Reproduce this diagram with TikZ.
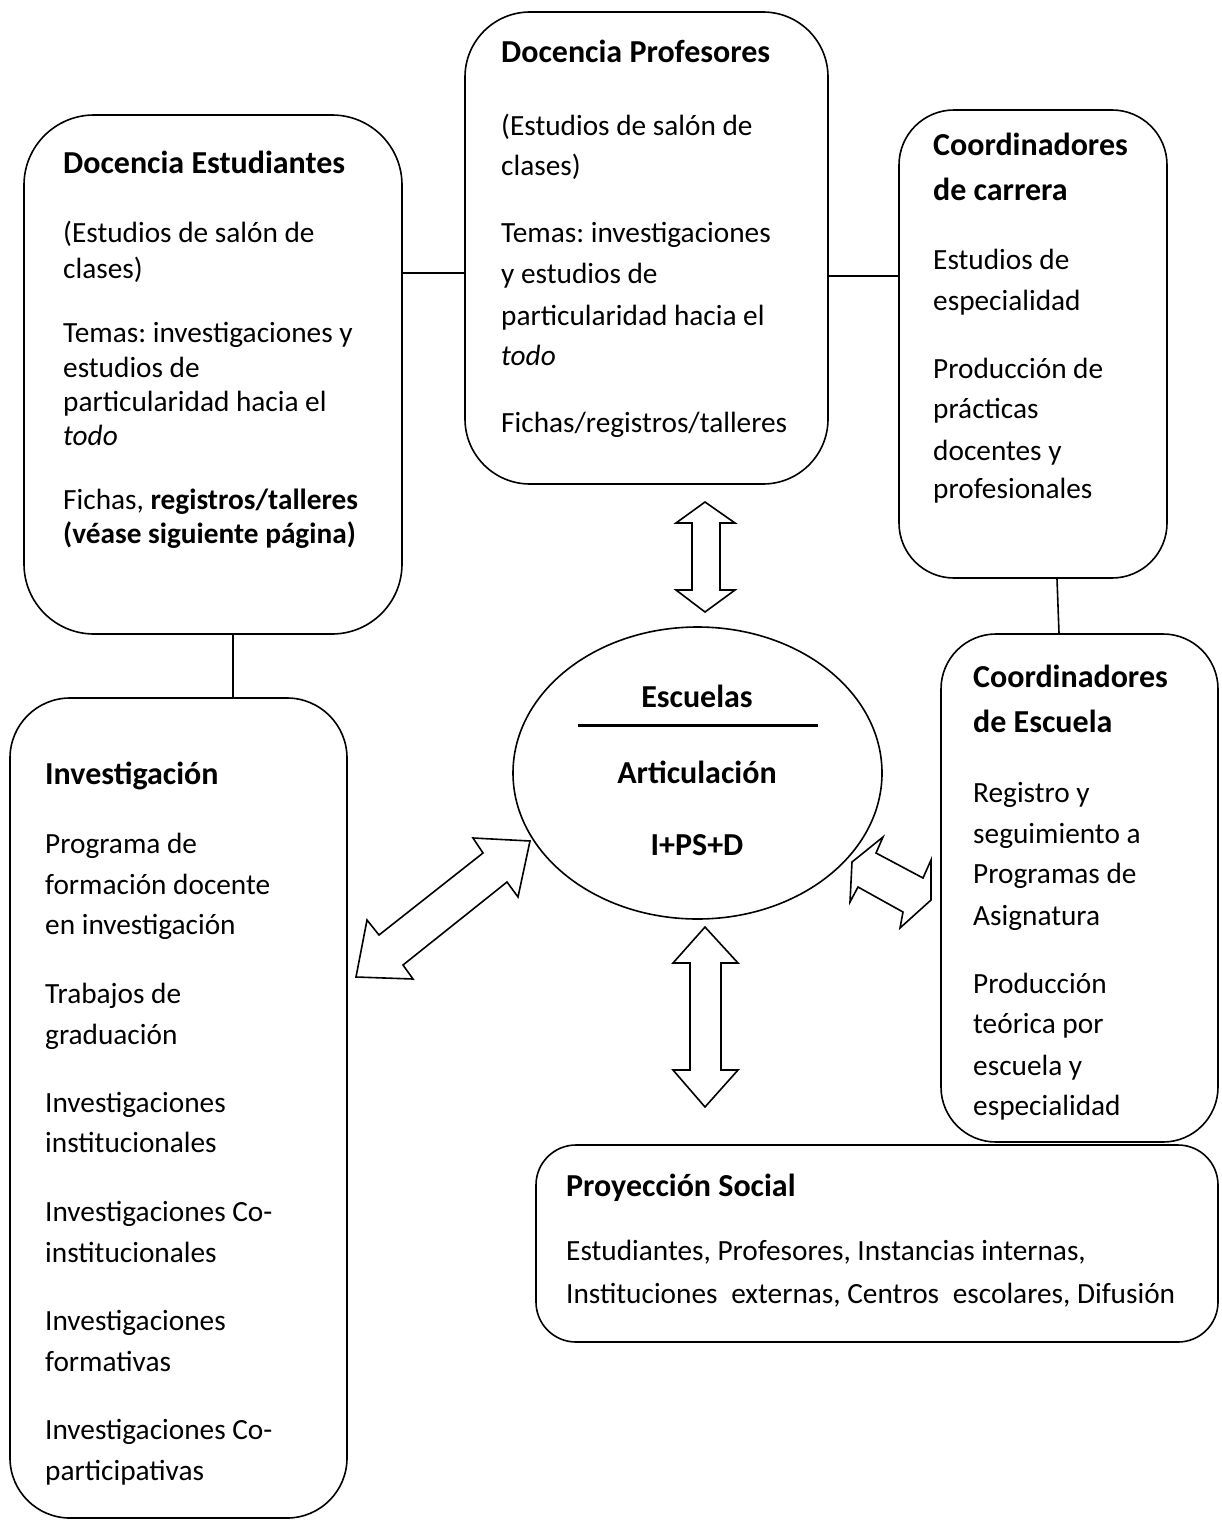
\documentclass[tikz,border=0pt]{standalone}
\usepackage{fontspec}
\setmainfont{Carlito}
\usetikzlibrary{shapes.geometric}
\begin{document}
\frenchspacing
\begin{tikzpicture}[x=1pt,y=-1pt,
  box/.style={draw,line width=1.6pt,inner sep=0pt},
  txt/.style={anchor=base west,inner sep=0pt,font=\fontsize{29.3}{35}\selectfont},
  htxt/.style={anchor=base west,inner sep=0pt,font=\fontsize{32}{38}\selectfont\bfseries},
  ctxt/.style={anchor=base,inner sep=0pt,font=\fontsize{32}{38}\selectfont\bfseries},
  link/.style={line width=1.6pt},
  blockarrow/.style={draw,line width=1.6pt,fill=white,line join=miter}]
\useasboundingbox[fill=white] (0,0) rectangle (1222,1520);

% boxes
\node[box,rounded corners=70pt,minimum width=378pt,minimum height=519pt] (de) at (213,374.5) {};
\node[box,rounded corners=65pt,minimum width=363pt,minimum height=472pt] (dp) at (646.5,248) {};
\node[box,rounded corners=55pt,minimum width=268pt,minimum height=468pt] (cc) at (1033,344) {};
\node[box,rounded corners=55pt,minimum width=277pt,minimum height=508pt] (ce) at (1079.5,888) {};
\node[box,rounded corners=60pt,minimum width=337pt,minimum height=820pt] (inv) at (178.5,1108) {};
\node[box,rounded corners=40pt,minimum width=682pt,minimum height=197pt] (ps) at (877,1243.5) {};
\node[draw,line width=1.6pt,ellipse,inner sep=0pt,minimum width=369pt,minimum height=292pt] (esc) at (697.5,773) {};

% simple connectors
\coordinate (yl) at (0,273);
\coordinate (yr) at (0,276);
\coordinate (xv) at (233,0);
\coordinate (xa) at (1057,0);
\coordinate (xb) at (1059,0);
\draw[link] (de.east |- yl) -- (dp.west |- yl);
\draw[link] (dp.east |- yr) -- (cc.west |- yr);
\draw[link] (de.south -| xv) -- (inv.north -| xv);
\draw[link] (cc.south -| xa) -- (ce.north -| xb);

% block arrows
\draw[blockarrow] (705,502) -- (735,523) -- (720,523) -- (720,590) -- (735,590) -- (705,612)
  -- (676,590) -- (692,590) -- (692,523) -- (676,523) -- cycle;
\draw[blockarrow] (705,927) -- (738,963) -- (721,963) -- (721,1070) -- (738,1070) -- (705,1107)
  -- (673,1070) -- (690,1070) -- (690,963) -- (673,963) -- cycle;
\draw[blockarrow] (530,841) -- (518,897) -- (507,882) -- (403,965) -- (413,979) -- (356,977)
  -- (367,920) -- (379,935) -- (483,853) -- (473,838) -- cycle;
\draw[blockarrow] (852,862) -- (883,837) -- (876,853) -- (923,878) -- (931,860) -- (931,900)
  -- (900,928) -- (903,912) -- (858,887) -- (850,902) -- cycle;

% ellipse text
\node[ctxt] (e1) at (697,707) {Escuelas};
\draw[line width=3pt] (578,725) -- (818,725);
\node[ctxt] (e2) at (697,783) {Articulación};
\node[ctxt] (e3) at (697,855) {I+PS+D};

% Docencia Estudiantes
\node[htxt] (de1) at (63,173) {Docencia Estudiantes};
\node[txt] (de2) at (63,242) {(Estudios de salón de};
\node[txt] (de3) at (63,278) {clases)};
\node[txt] (de4) at (63,342) {Temas: investigaciones y};
\node[txt] (de5) at (63,377) {estudios de};
\node[txt] (de6) at (63,411) {particularidad hacia el};
\node[txt] (de7) at (63,445) {\itshape todo};
\node[txt] (de8) at (63,509) {Fichas, \textbf{registros/talleres}};
\node[txt] (de9) at (63,543) {\bfseries (véase siguiente página)};

% Docencia Profesores
\node[htxt] (dp1) at (501,63) {Docencia Profesores};
\node[txt] (dp2) at (501,135) {(Estudios de salón de};
\node[txt] (dp3) at (501,175) {clases)};
\node[txt] (dp4) at (501,242) {Temas: investigaciones};
\node[txt] (dp5) at (501,283) {y estudios de};
\node[txt] (dp6) at (501,325) {particularidad hacia el};
\node[txt] (dp7) at (501,365) {\itshape todo};
\node[txt] (dp8) at (501,432) {Fichas/registros/talleres};

% Coordinadores de carrera
\node[htxt] (cc1) at (933,155) {Coordinadores};
\node[htxt] (cc2) at (933,200) {de carrera};
\node[txt] (cc3) at (933,269) {Estudios de};
\node[txt] (cc4) at (933,310) {especialidad};
\node[txt] (cc5) at (933,378) {Producción de};
\node[txt] (cc6) at (933,418) {prácticas};
\node[txt] (cc7) at (933,460) {docentes y};
\node[txt] (cc8) at (933,498) {profesionales};

% Coordinadores de Escuela
\node[htxt] (ce1) at (973,687) {Coordinadores};
\node[htxt] (ce2) at (973,732) {de Escuela};
\node[txt] (ce3) at (973,802) {Registro y};
\node[txt] (ce4) at (973,843) {seguimiento a};
\node[txt] (ce5) at (973,883) {Programas de};
\node[txt] (ce6) at (973,925) {Asignatura};
\node[txt] (ce7) at (973,993) {Producción};
\node[txt] (ce8) at (973,1033) {teórica por};
\node[txt] (ce9) at (973,1075) {escuela y};
\node[txt] (ce10) at (973,1115) {especialidad};

% Investigacion
\node[htxt] (in1) at (45,784) {Investigación};
\node[txt] (in2) at (45,853) {Programa de};
\node[txt] (in3) at (45,894) {formación docente};
\node[txt] (in4) at (45,934) {en investigación};
\node[txt] (in5) at (45,1003) {Trabajos de};
\node[txt] (in6) at (45,1044) {graduación};
\node[txt] (in7) at (45,1112) {Investigaciones};
\node[txt] (in8) at (45,1152) {institucionales};
\node[txt] (in9) at (45,1221) {Investigaciones Co-};
\node[txt] (in10) at (45,1262) {institucionales};
\node[txt] (in11) at (45,1330) {Investigaciones};
\node[txt] (in12) at (45,1371) {formativas};
\node[txt] (in13) at (45,1439) {Investigaciones Co-};
\node[txt] (in14) at (45,1480) {participativas};

% Proyeccion Social
\node[htxt] (ps1) at (566,1196) {Proyección Social};
\node[txt] (ps2) at (566,1260) {Estudiantes, Profesores, Instancias internas,};
\node[txt] (ps3) at (566,1303) {\makebox[609pt][l]{Instituciones \hfill externas, Centros \hfill escolares, Difusión}};
\end{tikzpicture}
\end{document}
